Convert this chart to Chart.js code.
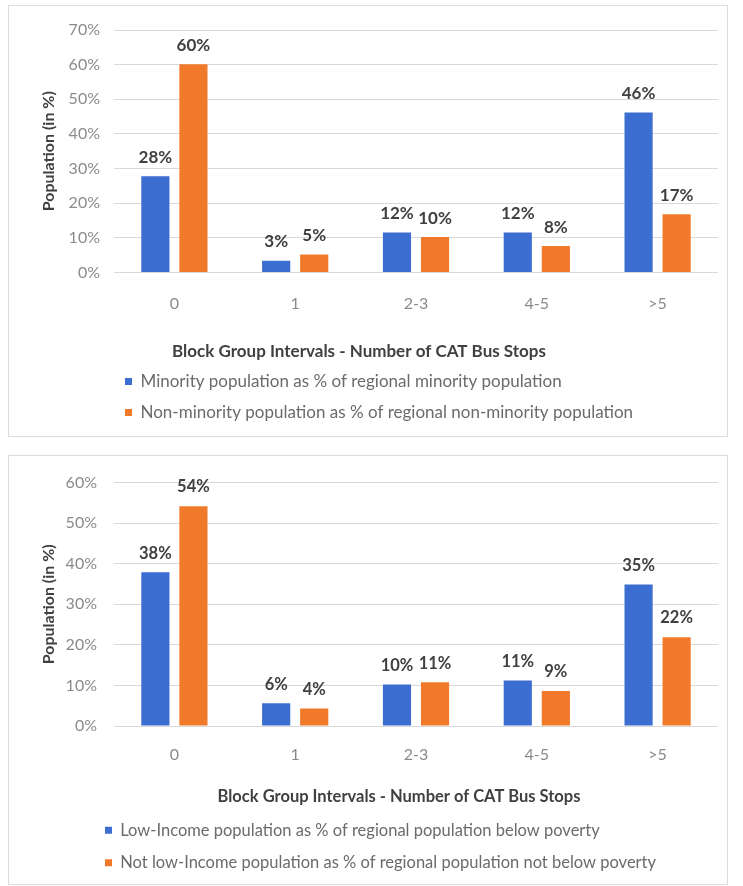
<!DOCTYPE html>
<html lang="en">
<head>
<meta charset="UTF-8">
<title>CAT Bus Stops by Block Group</title>
<script src="https://cdn.jsdelivr.net/npm/chart.js"></script>
<style>
  body { margin: 0; background: #fff; }
  .panel { position: absolute; left: 8px; width: 718px; border: 1px solid #dcdcdc; background: #fff; }
  #panel1 { top: 5px; height: 430px; }
  #panel2 { top: 455px; height: 428px; }
</style>
</head>
<body>
<div class="panel" id="panel1"><canvas id="minorityChart"></canvas></div>
<div class="panel" id="panel2"><canvas id="incomeChart"></canvas></div>

<script>
  // categories (number of CAT bus stops per block group)
  const categories = ['0', '1', '2-3', '4-5', '>5'];

  // top chart
  const minorityShare = [27.8, 3.4, 11.5, 11.5, 46.2];
  const nonMinorityShare = [60.1, 5.2, 10.2, 7.6, 16.8];
  const minorityNames = [
    'Minority population as % of regional minority population',
    'Non-minority population as % of regional non-minority population'
  ];

  // bottom chart
  const lowIncomeShare = [37.9, 5.6, 10.2, 11.2, 34.9];
  const notLowIncomeShare = [54.2, 4.3, 10.8, 8.6, 21.9];
  const incomeNames = [
    'Low-Income population as % of regional population below poverty',
    'Not low-Income population as % of regional population not below poverty'
  ];

  const xTitle = 'Block Group Intervals - Number of CAT Bus Stops';
  const yTitle = 'Population (in %)';

  const FONT = 'Lato, "Open Sans", sans-serif';
  const BLUE = '#3C6DD0';
  const ORANGE = '#F07A2A';

  // value labels above bars
  const barLabels = {
    id: 'barLabels',
    afterDatasetsDraw(chart, args, opts) {
      const ctx = chart.ctx;
      ctx.save();
      ctx.font = 'bold ' + opts.size + 'px ' + FONT;
      ctx.fillStyle = '#404040';
      ctx.textAlign = 'center';
      ctx.textBaseline = 'middle';
      chart.data.datasets.forEach((ds, i) => {
        chart.getDatasetMeta(i).data.forEach((bar, j) => {
          ctx.fillText(Math.round(ds.data[j]) + '%', bar.x, bar.y - opts.offset);
        });
      });
      ctx.restore();
    }
  };

  // Excel places the legend block and the x title off the plot centre
  const offCentre = {
    id: 'offCentre',
    afterLayout(chart, args, opts) {
      const lg = chart.legend;
      const w = lg.right - lg.left;
      lg.left = opts.legendX;
      lg.right = opts.legendX + w;
    },
    afterDraw(chart, args, opts) {
      const sx = chart.scales.x;
      const t = sx.options.title;
      const ctx = chart.ctx;
      ctx.save();
      ctx.font = 'bold ' + t.font.size + 'px ' + FONT;
      ctx.fillStyle = '#404040';
      ctx.textAlign = 'center';
      ctx.textBaseline = 'middle';
      ctx.fillText(t.text, opts.titleX, sx.bottom - t.font.size * 0.6 + opts.titleDy);
      ctx.restore();
    }
  };

  function makeChart(id, seriesA, seriesB, names, yMax, g) {
    const ctx = document.getElementById(id).getContext('2d');
    return new Chart(ctx, {
      type: 'bar',
      data: {
        labels: categories,
        datasets: [
          { label: names[0], data: seriesA, backgroundColor: BLUE,
            barPercentage: 0.74, categoryPercentage: 0.63 },
          { label: names[1], data: seriesB, backgroundColor: ORANGE,
            barPercentage: 0.74, categoryPercentage: 0.63 }
        ]
      },
      options: {
        responsive: true,
        maintainAspectRatio: false,
        animation: false,
        layout: { padding: { left: 25, right: 9, top: 24, bottom: g.padBottom } },
        scales: {
          x: {
            grid: { display: false, drawTicks: false },
            border: { display: false },
            ticks: { color: '#8a8a8a', font: { family: FONT, size: 16 }, padding: g.xTickPad },
            title: {
              // drawn by offCentre, kept here for the layout
              display: true, text: xTitle, color: 'rgba(0,0,0,0)',
              font: { family: FONT, size: g.titleSize, weight: 'bold' },
              padding: { top: g.xTitlePad, bottom: 0 }
            }
          },
          y: {
            min: 0, max: yMax,
            afterFit(scale) { scale.width = 80; },
            grid: { color: '#d9d9d9', drawTicks: false },
            border: { display: false },
            ticks: {
              stepSize: 10, color: '#8a8a8a', padding: g.yTickPad,
              font: { family: FONT, size: 16 },
              callback: v => v + '%'
            },
            title: {
              display: true, text: yTitle, color: '#404040',
              font: { family: FONT, size: 16, weight: 'bold' },
              padding: { top: 5, bottom: 0 }
            }
          }
        },
        plugins: {
          legend: {
            position: 'bottom', align: 'start', fullSize: false,
            labels: {
              boxWidth: 7, boxHeight: 7, padding: g.legendPad,
              color: '#6b6b6b', font: { family: FONT, size: g.legendSize }
            }
          },
          tooltip: { enabled: false },
          barLabels: { offset: 19, size: g.labelSize },
          offCentre: { legendX: g.legendX, titleX: g.titleX, titleDy: g.titleDy }
        }
      },
      plugins: [barLabels, offCentre]
    });
  }

  makeChart('minorityChart', minorityShare, nonMinorityShare, minorityNames, 70, {
    padBottom: 5, xTickPad: 22, xTitlePad: 3, yTickPad: 14,
    legendPad: 14, legendSize: 17, legendX: 102,
    titleSize: 17, titleX: 350, titleDy: 3, labelSize: 17
  });

  makeChart('incomeChart', lowIncomeShare, notLowIncomeShare, incomeNames, 60, {
    padBottom: 3, xTickPad: 19, xTitlePad: 3, yTickPad: 17,
    legendPad: 16, legendSize: 16.5, legendX: 80,
    titleSize: 16.5, titleX: 390, titleDy: 1, labelSize: 16.5
  });
</script>
</body>
</html>
